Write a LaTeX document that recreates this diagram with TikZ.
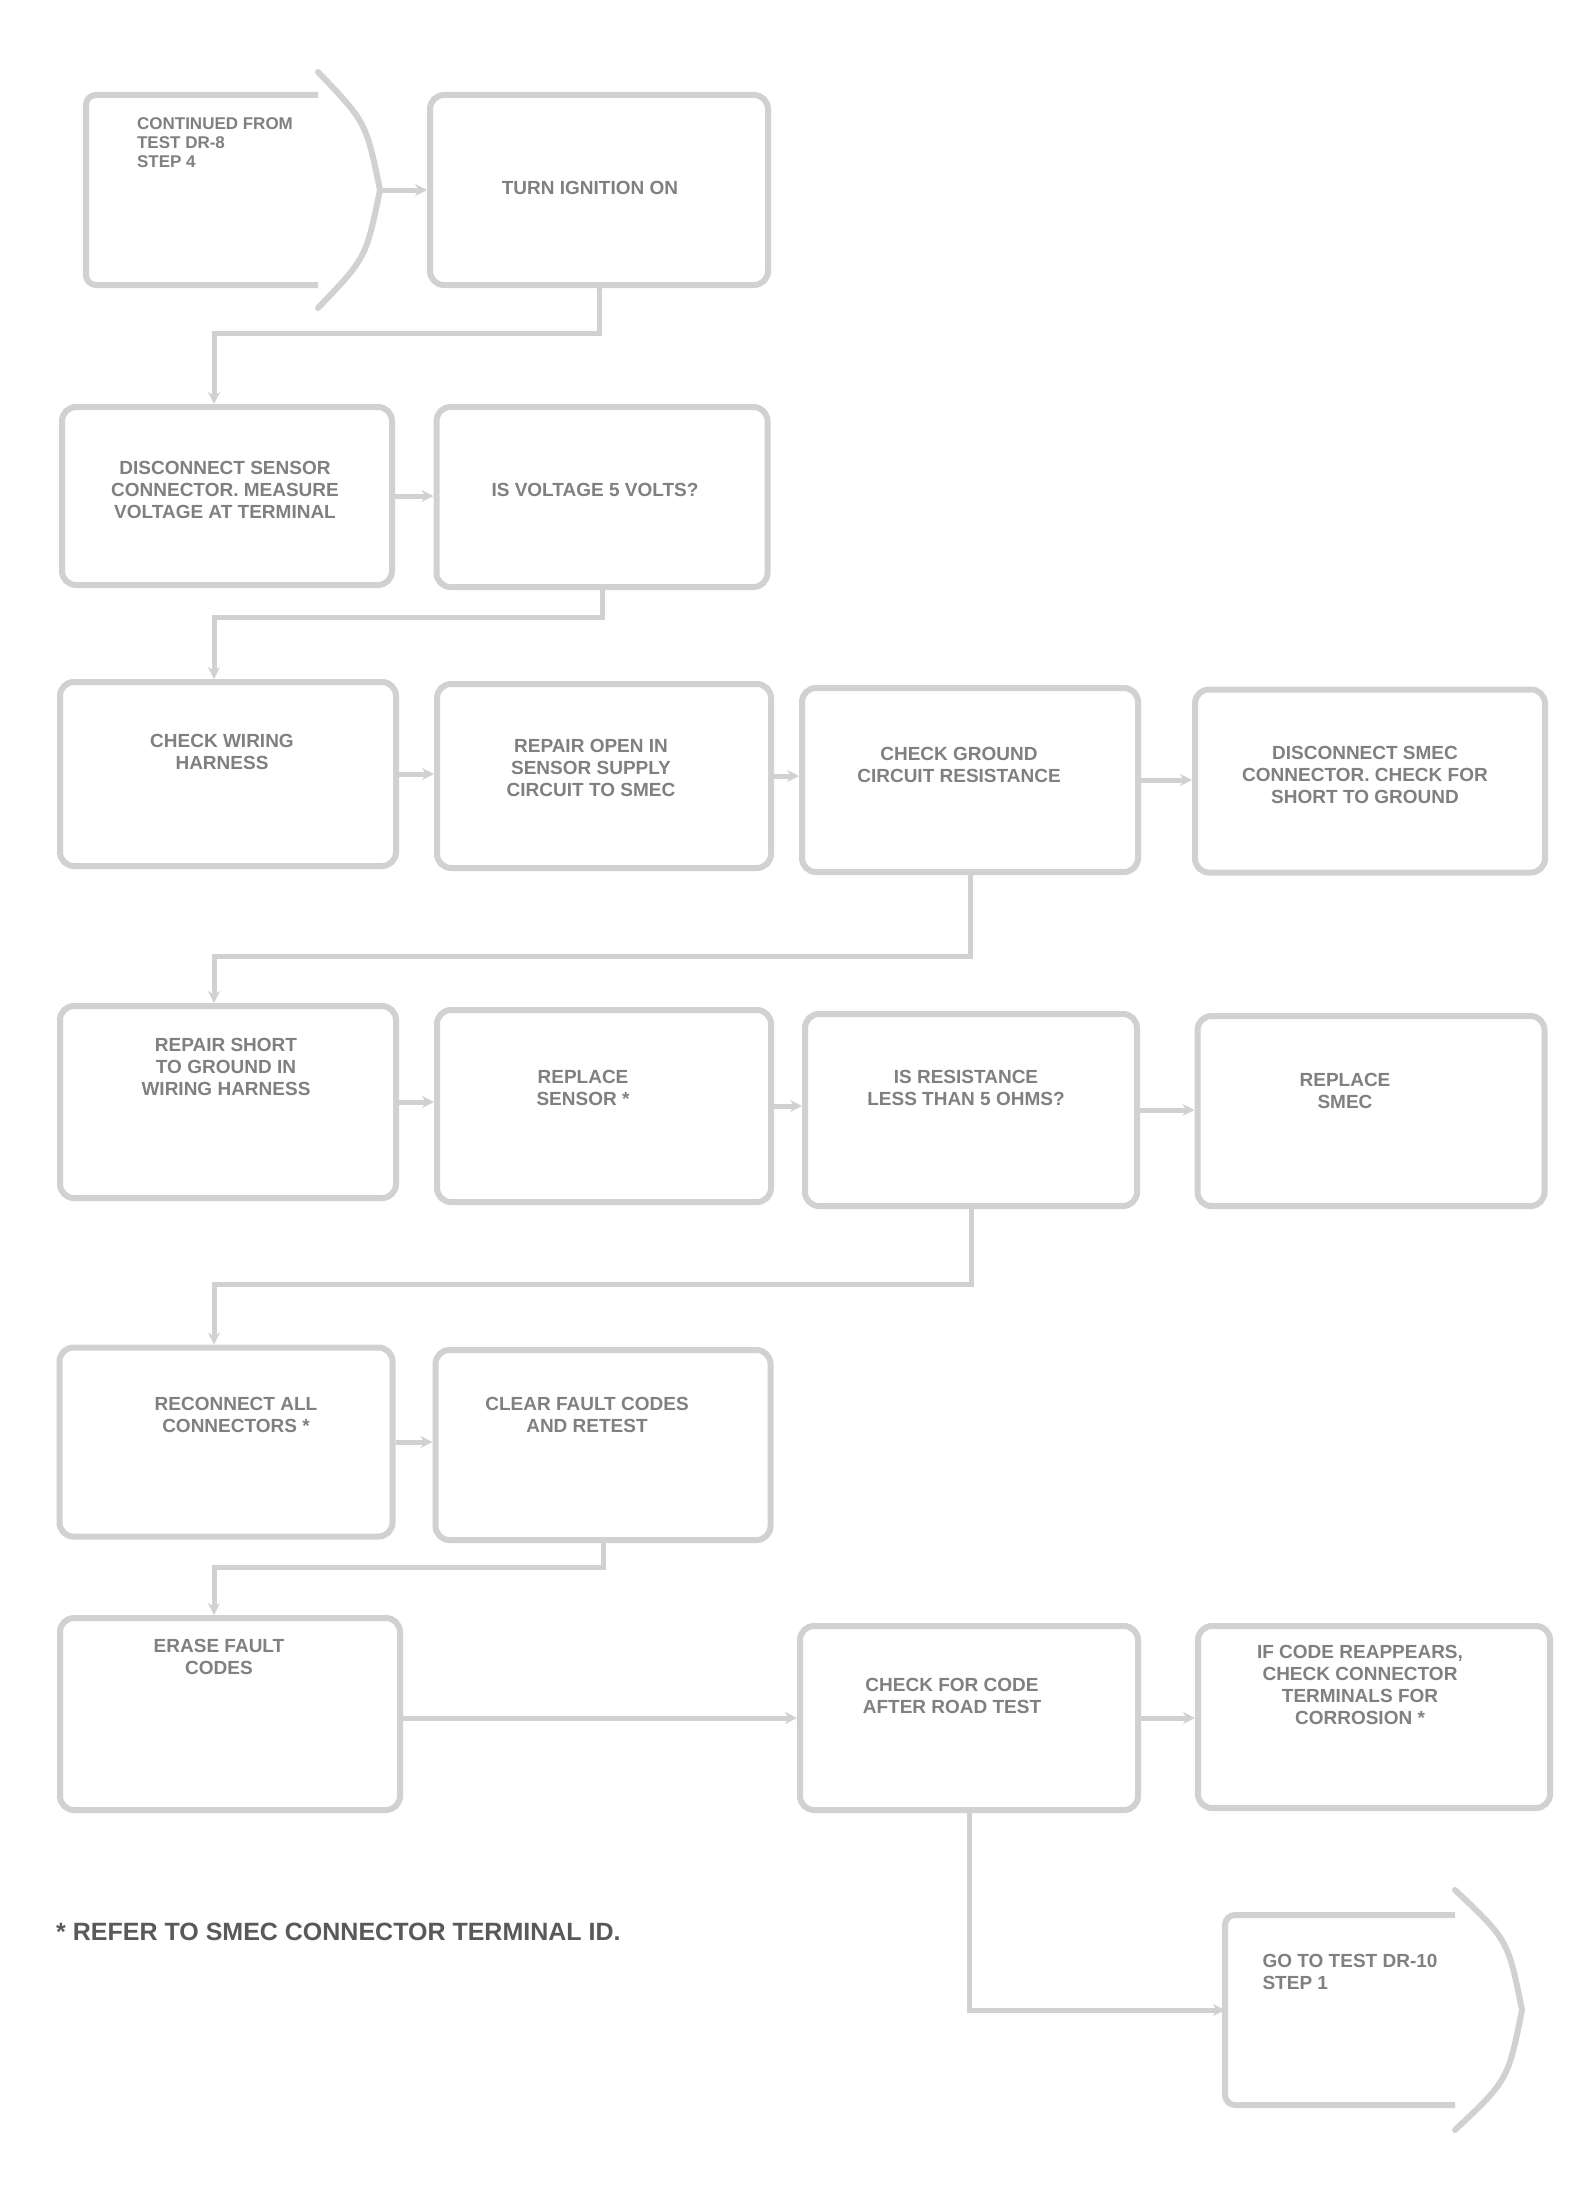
\documentclass[tikz,border=0pt]{standalone}
\usepackage{fontspec}
\setmainfont{Liberation Sans}
\usetikzlibrary{arrows.meta}
\definecolor{linegray}{gray}{0.82}
\definecolor{textgray}{gray}{0.5}
\tikzset{
  box/.style={draw=linegray, line width=6pt, rounded corners=14pt, inner sep=0pt},
  conn/.style={draw=linegray, line width=5pt, -{Stealth[length=12pt,width=12pt]}},
  outline/.style={draw=linegray, line width=6pt, rounded corners=10pt, line join=round},
  txt/.style={text=textgray, font=\fontsize{19}{22}\selectfont\bfseries, align=center, inner sep=0pt},
  note/.style={text=textgray!70!black, font=\fontsize{25}{27}\selectfont\bfseries, anchor=west, inner sep=0pt}
}
\begin{document}
\begin{tikzpicture}[x=1pt,y=-1pt]
\useasboundingbox (0,0) rectangle (1584,2205);
\fill[white] (0,0) rectangle (1584,2205);

% entry shape
\node (S0) [minimum width=290pt, minimum height=190pt, inner sep=0pt] at (232,190) {};
\draw[outline] (318,95) -- (86,95) -- (86,285) -- (318,285);
\draw[draw=linegray, line width=6pt, line cap=round] (318,72) .. controls (366,122) .. (380,190) .. controls (366,258) .. (318,308);
\coordinate (S0ap) at (380,190);
\node[txt, align=left, font=\fontsize{17}{19}\selectfont\bfseries] (T0) at (215,143) {CONTINUED FROM\\TEST DR-8\\STEP 4};

% row 1
\node[box, minimum width=338pt, minimum height=190pt] (B1) at (599,190) {};
\node[txt] (T1) at (590,188) {TURN IGNITION ON};

% row 2
\node[box, minimum width=330pt, minimum height=178pt] (B2) at (227,496) {};
\node[box, minimum width=331pt, minimum height=180pt] (B3) at (602,497) {};
\node[txt] (T2) at (225,490) {DISCONNECT SENSOR\\CONNECTOR. MEASURE\\VOLTAGE AT TERMINAL};
\node[txt] (T3) at (595,490) {IS VOLTAGE 5 VOLTS?};

% row 3
\node[box, minimum width=336pt, minimum height=184pt] (B4) at (228,774) {};
\node[box, minimum width=334pt, minimum height=184pt] (B5) at (604,776) {};
\node[box, minimum width=336pt, minimum height=184pt] (B6) at (970,780) {};
\node[box, minimum width=350pt, minimum height=183pt] (B7) at (1370,781) {};
\node[txt] (T4) at (222,752) {CHECK WIRING\\HARNESS};
\node[txt] (T5) at (591,768) {REPAIR OPEN IN\\SENSOR SUPPLY\\CIRCUIT TO SMEC};
\node[txt] (T6) at (959,765) {CHECK GROUND\\CIRCUIT RESISTANCE};
\node[txt] (T7) at (1365,775) {DISCONNECT SMEC\\CONNECTOR. CHECK FOR\\SHORT TO GROUND};

% row 4
\node[box, minimum width=336pt, minimum height=192pt] (B8) at (228,1102) {};
\node[box, minimum width=334pt, minimum height=192pt] (B9) at (604,1106) {};
\node[box, minimum width=332pt, minimum height=192pt] (B10) at (971,1110) {};
\node[box, minimum width=347pt, minimum height=190pt] (B11) at (1371,1111) {};
\node[txt] (T8) at (226,1067) {REPAIR SHORT\\TO GROUND IN\\WIRING HARNESS};
\node[txt] (T9) at (583,1088) {REPLACE\\SENSOR *};
\node[txt] (T10) at (966,1088) {IS RESISTANCE\\LESS THAN 5 OHMS?};
\node[txt] (T11) at (1345,1091) {REPLACE\\SMEC};

% row 5
\node[box, minimum width=333pt, minimum height=189pt] (B12) at (226,1442) {};
\node[box, minimum width=335pt, minimum height=190pt] (B13) at (603,1445) {};
\node[txt] (T12) at (236,1415) {RECONNECT ALL\\CONNECTORS *};
\node[txt] (T13) at (587,1415) {CLEAR FAULT CODES\\AND RETEST};

% row 6
\node[box, minimum width=340pt, minimum height=192pt] (B14) at (230,1714) {};
\node[box, minimum width=338pt, minimum height=184pt] (B15) at (969,1718) {};
\node[box, minimum width=352pt, minimum height=182pt] (B16) at (1374,1717) {};
\node[txt] (T14) at (219,1657) {ERASE FAULT\\CODES};
\node[txt] (T15) at (952,1696) {CHECK FOR CODE\\AFTER ROAD TEST};
\node[txt] (T16) at (1360,1685) {IF CODE REAPPEARS,\\CHECK CONNECTOR\\TERMINALS FOR\\CORROSION *};

% exit shape
\node (S1) [minimum width=290pt, minimum height=190pt, inner sep=0pt] at (1370,2010) {};
\draw[outline] (1455,1915) -- (1225,1915) -- (1225,2105) -- (1455,2105);
\draw[draw=linegray, line width=6pt, line cap=round] (1455,1890) .. controls (1508,1940) .. (1522,2010) .. controls (1508,2080) .. (1455,2130);
\coordinate (S1in) at (1225,2010);
\node[txt, align=left] (T17) at (1350,1972) {GO TO TEST DR-10\\STEP 1};

% footnote
\node[note] (N1) at (56,1932) {* REFER TO SMEC CONNECTOR TERMINAL ID.};

% connectors
\draw[conn] (S0ap) -- (S0ap -| B1.west);
\draw[conn] (B1.south) -- ++(0,45) -| ([xshift=-13pt]B2.north);
\draw[conn] (B2.east) -- (B2.east -| B3.west);
\draw[conn] (B3.south) -- ++(0,27) -| ([xshift=-14pt]B4.north);
\draw[conn] (B4.east) -- (B4.east -| B5.west);
\draw[conn] (B5.east) -- (B5.east -| B6.west);
\draw[conn] (B6.east) -- (B6.east -| B7.west);
\draw[conn] (B6.south) -- ++(0,81) -| ([xshift=-14pt]B8.north);
\draw[conn] (B8.east) -- (B8.east -| B9.west);
\draw[conn] (B9.east) -- (B9.east -| B10.west);
\draw[conn] (B10.east) -- (B10.east -| B11.west);
\draw[conn] (B10.south) -- ++(0,75) -| ([xshift=-12pt]B12.north);
\draw[conn] (B12.east) -- (B12.east -| B13.west);
\draw[conn] (B13.south) -- ++(0,24) -| ([xshift=-16pt]B14.north);
\draw[conn] (B14.east |- B15.west) -- (B15.west);
\draw[conn] (B15.east) -- (B15.east -| B16.west);
\draw[conn] (B15.south) |- (S1in);
\end{tikzpicture}
\end{document}
